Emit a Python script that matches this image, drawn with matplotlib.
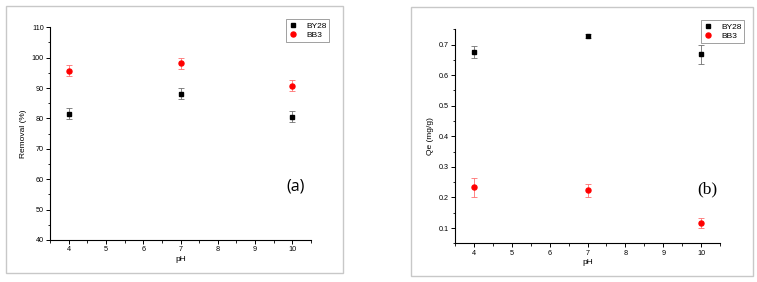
import numpy as np
import matplotlib
matplotlib.use('Agg')
import matplotlib.pyplot as plt
from matplotlib.patches import Rectangle
from matplotlib.lines import Line2D
from matplotlib.ticker import MultipleLocator

plt.rcParams['font.family'] = ['Liberation Sans', 'DejaVu Sans']

# data
ph = [4, 7, 10]
removal_by28 = [81.5, 88.2, 80.5]
removal_by28_err = [1.8, 1.8, 1.8]
removal_bb3 = [95.7, 98.1, 90.7]
removal_bb3_err = [1.8, 1.8, 1.8]
qe_by28 = [0.676, 0.728, 0.668]
qe_by28_err = [0.021, 0.007, 0.030]
qe_bb3 = [0.234, 0.223, 0.116]
qe_bb3_err = [0.031, 0.020, 0.016]

W, H = 757, 282
fig = plt.figure(figsize=(W / 100, H / 100), dpi=100)

# light grey panel frames
for x0, y0, x1, y1 in [(6, 6, 343, 273), (411, 7, 753, 276)]:
    fig.patches.append(Rectangle((x0 / W, 1 - y1 / H), (x1 - x0) / W,
                                 (y1 - y0) / H, transform=fig.transFigure,
                                 fill=False, edgecolor='#c8c8c8', lw=1.0))


def style_axes(ax):
    for s in ['top', 'right']:
        ax.spines[s].set_visible(False)
    for s in ['left', 'bottom']:
        ax.spines[s].set_linewidth(0.8)
    ax.tick_params(which='major', direction='out', length=3, width=0.7,
                   labelsize=5.2, pad=1.5)
    ax.tick_params(which='minor', direction='out', length=1.8, width=0.6)
    ax.set_xlim(3.5, 10.5)
    ax.xaxis.set_major_locator(MultipleLocator(1))
    ax.xaxis.set_minor_locator(MultipleLocator(0.5))
    ax.set_xlabel('pH', fontsize=6, labelpad=2)


def plot_pair(ax, y1, e1, y2, e2):
    ax.errorbar(ph, y1, yerr=e1, fmt='s', color='black', ms=3.2,
                ecolor='#707070', elinewidth=0.6, capsize=2.2,
                capthick=0.6)
    ax.errorbar(ph, y2, yerr=e2, fmt='o', color='#ff0000', ms=3.6,
                ecolor='#ff7070', elinewidth=0.6, capsize=2.2,
                capthick=0.6)


def add_legend(ax, anchor):
    handles = [Line2D([], [], ls='none', marker='s', color='black', ms=3.2),
               Line2D([], [], ls='none', marker='o', color='#ff0000', ms=3.6)]
    leg = ax.legend(handles, ['BY28', 'BB3'], loc='upper right',
                    bbox_to_anchor=anchor, bbox_transform=fig.transFigure,
                    fontsize=6, fancybox=False, edgecolor='#909090',
                    framealpha=1, handletextpad=0.9, borderpad=0.3,
                    labelspacing=0.2, handlelength=1.2)
    leg.get_frame().set_linewidth(0.6)


# (a)
ax1 = fig.add_axes([50 / W, 1 - 240 / H, 261 / W, 212.7 / H])
plot_pair(ax1, removal_by28, removal_by28_err, removal_bb3, removal_bb3_err)
style_axes(ax1)
ax1.set_ylim(40, 110)
ax1.yaxis.set_major_locator(MultipleLocator(10))
ax1.yaxis.set_minor_locator(MultipleLocator(5))
ax1.set_ylabel('Removal (%)', fontsize=6, labelpad=3)
ax1.text(0.94, 0.25, '(a)', transform=ax1.transAxes, fontsize=11.5,
         family='Open Sans', ha='center', va='center')
add_legend(ax1, (333 / W, 1 - 15 / H))

# (b)
ax2 = fig.add_axes([455 / W, 1 - 243.3 / H, 265 / W, 214 / H])
plot_pair(ax2, qe_by28, qe_by28_err, qe_bb3, qe_bb3_err)
style_axes(ax2)
ax2.set_ylim(0.05, 0.75)
ax2.yaxis.set_major_locator(MultipleLocator(0.1))
ax2.yaxis.set_minor_locator(MultipleLocator(0.05))
ax2.set_ylabel('Qe (mg/g)', fontsize=6, labelpad=3)
ax2.text(0.951, 0.25, '(b)', transform=ax2.transAxes, fontsize=12.5,
         family='Liberation Serif', ha='center', va='center')
add_legend(ax2, (748 / W, 1 - 16 / H))

fig.savefig('out.png', dpi=100)
